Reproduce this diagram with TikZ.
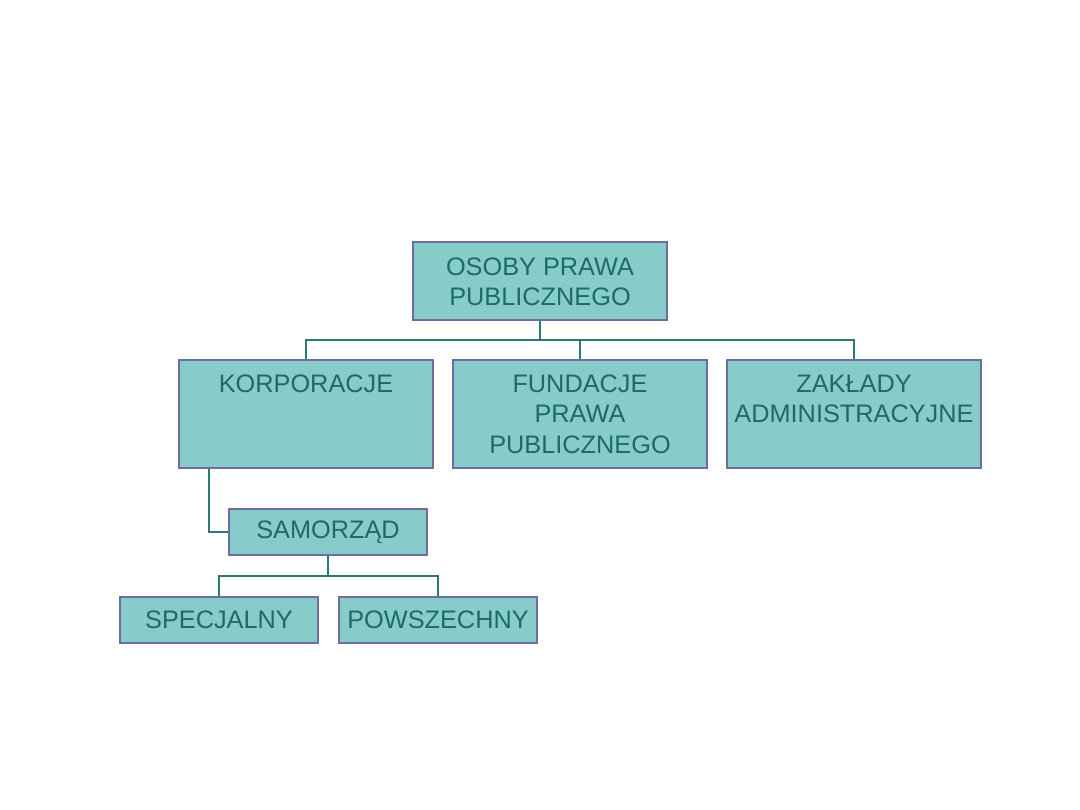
\documentclass[tikz,border=0pt]{standalone}
\usepackage{fontspec}
\setmainfont{Liberation Sans}
\newlength\upx
\setlength\upx{0.025cm}
\definecolor{boxfill}{HTML}{88CCCA}
\definecolor{boxedge}{HTML}{6E6EA2}
\definecolor{txt}{HTML}{1D6B66}
\definecolor{wire}{HTML}{2C7873}
\tikzset{
  box/.style={draw=boxedge, fill=boxfill, line width=1.42pt, inner sep=0pt, text=txt,
    font=\fontsize{18}{21.5}\selectfont, align=center},
  small/.style={box, minimum width=198\upx, minimum height=46\upx},
  conn/.style={draw=wire, line width=1.42pt}
}
\newcommand{\tbox}[3]{\parbox[c][#1\upx][t]{254\upx}{\centering\vspace*{#2\upx}#3\par}}
\begin{document}
\begin{tikzpicture}[x=\upx, y=-\upx]
\useasboundingbox[fill=white] (0,0) rectangle (1080,810);
\node[box] (top) at (540,281) {\tbox{78}{16}{OSOBY PRAWA\\PUBLICZNEGO}};
\node[box] (korp) at (306,414) {\tbox{108}{15}{KORPORACJE}};
\node[box] (fund) at (580,414) {\tbox{108}{15}{FUNDACJE\\PRAWA\\PUBLICZNEGO}};
\node[box] (zakl) at (854,414) {\tbox{108}{15}{ZAKŁADY\\ADMINISTRACYJNE}};
\node[small] (samo) at (328,532) {SAMORZĄD};
\node[small] (spec) at (219,620) {SPECJALNY};
\node[small] (pows) at (438,620) {POWSZECHNY};
\coordinate (bus) at (540,340);
\coordinate (bus2) at (328,576);
\draw[conn] (top.south) -- (bus);
\draw[conn] (korp.north) |- (bus) -| (zakl.north);
\draw[conn] (fund.north) -- (fund.north |- bus);
\draw[conn] ([xshift=-97\upx]korp.south) |- (samo.west);
\draw[conn] (samo.south) -- (bus2);
\draw[conn] (spec.north) |- (bus2) -| (pows.north);
\end{tikzpicture}
\end{document}
